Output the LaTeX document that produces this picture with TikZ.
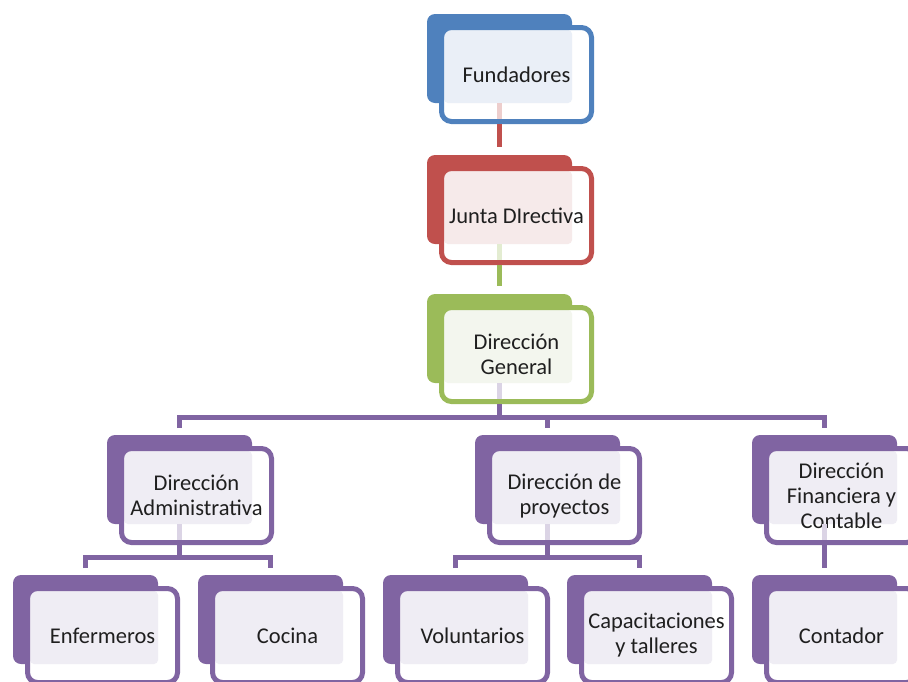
\documentclass[tikz,border=0pt]{standalone}
\usepackage{fontspec}
\setmainfont{Carlito}
\definecolor{cblue}{HTML}{4F81BD}
\definecolor{lblue}{HTML}{EAEFF7}
\definecolor{cred}{HTML}{C0504D}
\definecolor{lred}{HTML}{F6EAEA}
\definecolor{cgreen}{HTML}{9BBB59}
\definecolor{lgreen}{HTML}{F3F6EE}
\definecolor{cpurple}{HTML}{8064A2}
\definecolor{lpurple}{HTML}{EFEDF4}
\tikzset{
  backbox/.style={fill=#1, rounded corners=8pt, minimum width=145pt, minimum height=89pt,
    inner sep=0pt, outer sep=0pt, anchor=north west},
  frontbox/.style 2 args={draw=#1, line width=5pt, fill=white, rounded corners=10pt,
    minimum width=150pt, minimum height=94pt, inner sep=0pt, outer sep=2.5pt,
    align=center, font=\fontsize{22.5}{25}\selectfont, text=black!88, anchor=north west,
    path picture={\fill[#2, rounded corners=4pt]
      ([shift={(2.5,2.5)}]path picture bounding box.north west) rectangle
      ([shift={(-19.5,-18.5)}]path picture bounding box.south east);}},
  conn/.style={line width=5pt, draw=#1},
  faint/.style={line width=5pt, draw=#1!28},
}
\newcommand\orgbox[6]{%
  \node[backbox=#4] (#1b) at (#2,#3) {};
  \node[frontbox={#4}{#5}] (#1) at (#2+12,#3+11) {#6};
}
\begin{document}
\begin{tikzpicture}[x=1pt,y=-1pt]
\useasboundingbox (0,0) rectangle (908,681);
\clip (0,0) rectangle (908,681);
\coordinate (bus1) at (0,417);
\coordinate (bus2) at (0,557);
% boxes
\orgbox{fun}{427}{14}{cblue}{lblue}{Fundadores}
\orgbox{jun}{427}{155}{cred}{lred}{Junta DIrectiva}
\orgbox{gen}{427}{294}{cgreen}{lgreen}{Dirección\\General}
\orgbox{adm}{107}{435}{cpurple}{lpurple}{Dirección\\Administrativa}
\orgbox{pro}{475}{435}{cpurple}{lpurple}{Dirección de\\proyectos}
\orgbox{fin}{752}{435}{cpurple}{lpurple}{Dirección\\Financiera y\\Contable}
\orgbox{enf}{13}{575}{cpurple}{lpurple}{Enfermeros}
\orgbox{coc}{198}{575}{cpurple}{lpurple}{Cocina}
\orgbox{vol}{383}{575}{cpurple}{lpurple}{Voluntarios}
\orgbox{cap}{567}{575}{cpurple}{lpurple}{Capacitaciones\\y talleres}
\orgbox{con}{752}{575}{cpurple}{lpurple}{Contador}
% faint connector parts inside the parent boxes
\draw[faint=cred] (funb.south) -- ([yshift=5pt]funb.south |- fun.south);
\draw[faint=cgreen] (junb.south) -- ([yshift=5pt]junb.south |- jun.south);
\draw[faint=cpurple] (genb.south) -- ([yshift=5pt]genb.south |- gen.south);
\draw[faint=cpurple] (admb.south) -- ([yshift=5pt]admb.south |- adm.south);
\draw[faint=cpurple] (prob.south) -- ([yshift=5pt]prob.south |- pro.south);
\draw[faint=cpurple] (finb.south) -- ([yshift=5pt]finb.south |- fin.south);
% connectors
\draw[conn=cred] (funb.south |- fun.south) -- ([yshift=8pt]junb.north);
\draw[conn=cgreen] (junb.south |- jun.south) -- ([yshift=8pt]genb.north);
\draw[conn=cpurple] (genb.south |- gen.south) -- (genb.south |- bus1);
\draw[conn=cpurple] ([yshift=7pt]admb.north) |- (finb.north |- bus1) -- ([yshift=7pt]finb.north);
\draw[conn=cpurple] (prob.north |- bus1) -- ([yshift=7pt]prob.north);
\draw[conn=cpurple] (admb.south |- adm.south) -- (admb.south |- bus2);
\draw[conn=cpurple] ([yshift=7pt]enfb.north) |- (cocb.north |- bus2) -- ([yshift=7pt]cocb.north);
\draw[conn=cpurple] (prob.south |- pro.south) -- (prob.south |- bus2);
\draw[conn=cpurple] ([yshift=7pt]volb.north) |- (capb.north |- bus2) -- ([yshift=7pt]capb.north);
\draw[conn=cpurple] (finb.south |- fin.south) -- ([yshift=7pt]conb.north);
\end{tikzpicture}
\end{document}
